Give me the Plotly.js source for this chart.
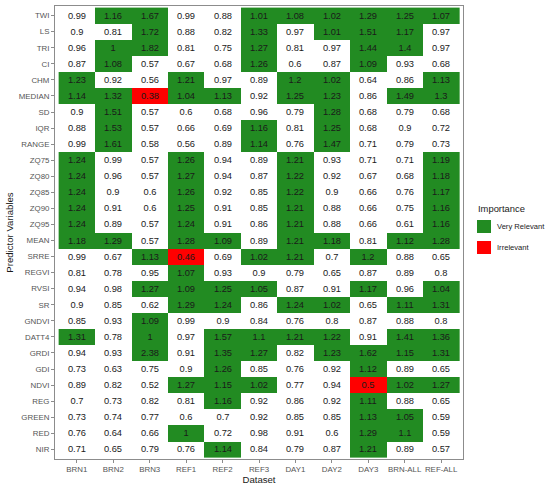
<!DOCTYPE html>
<html>
<head>
<meta charset="utf-8">
<script src="https://cdn.plot.ly/plotly-3.0.1.min.js"></script>
<style>
  html, body { margin: 0; padding: 0; background: #fff; }
  #chart { width: 550px; height: 489px; }
</style>
</head>
<body>
<div id="chart"></div>
<script>
// datasets (columns) and predictor variables (rows, top to bottom)
var datasets = ['BRN1', 'BRN2', 'BRN3', 'REF1', 'REF2', 'REF3', 'DAY1', 'DAY2', 'DAY3', 'BRN-ALL', 'REF-ALL'];
var predictors = ['TWI', 'LS', 'TRI', 'CI', 'CHM', 'MEDIAN', 'SD', 'IQR', 'RANGE',
    'ZQ75', 'ZQ80', 'ZQ85', 'ZQ90', 'ZQ95', 'MEAN', 'SRRE', 'REGVI', 'RVSI', 'SR',
    'GNDVI', 'DATT4', 'GRDI', 'GDI', 'NDVI', 'REG', 'GREEN', 'RED', 'NIR'];

// importance values, one row per predictor
var TWI    = [0.99, 1.16, 1.67, 0.99, 0.88, 1.01, 1.08, 1.02, 1.29, 1.25, 1.07];
var LS     = [0.9, 0.81, 1.72, 0.88, 0.82, 1.33, 0.97, 1.01, 1.51, 1.17, 0.97];
var TRI    = [0.96, 1, 1.82, 0.81, 0.75, 1.27, 0.81, 0.97, 1.44, 1.4, 0.97];
var CI     = [0.87, 1.08, 0.57, 0.67, 0.68, 1.26, 0.6, 0.87, 1.09, 0.93, 0.68];
var CHM    = [1.23, 0.92, 0.56, 1.21, 0.97, 0.89, 1.2, 1.02, 0.64, 0.86, 1.13];
var MEDIAN = [1.14, 1.32, 0.38, 1.04, 1.13, 0.92, 1.25, 1.23, 0.86, 1.49, 1.3];
var SD     = [0.9, 1.51, 0.57, 0.6, 0.68, 0.96, 0.79, 1.28, 0.68, 0.79, 0.68];
var IQR    = [0.88, 1.53, 0.57, 0.66, 0.69, 1.16, 0.81, 1.25, 0.68, 0.9, 0.72];
var RANGE  = [0.99, 1.61, 0.58, 0.56, 0.89, 1.14, 0.76, 1.47, 0.71, 0.79, 0.73];
var ZQ75   = [1.24, 0.99, 0.57, 1.26, 0.94, 0.89, 1.21, 0.93, 0.71, 0.71, 1.19];
var ZQ80   = [1.24, 0.96, 0.57, 1.27, 0.94, 0.87, 1.22, 0.92, 0.67, 0.68, 1.18];
var ZQ85   = [1.24, 0.9, 0.6, 1.26, 0.92, 0.85, 1.22, 0.9, 0.66, 0.76, 1.17];
var ZQ90   = [1.24, 0.91, 0.6, 1.25, 0.91, 0.85, 1.21, 0.88, 0.66, 0.75, 1.16];
var ZQ95   = [1.24, 0.89, 0.57, 1.24, 0.91, 0.86, 1.21, 0.88, 0.66, 0.61, 1.16];
var MEAN   = [1.18, 1.29, 0.57, 1.28, 1.09, 0.89, 1.21, 1.18, 0.81, 1.12, 1.28];
var SRRE   = [0.99, 0.67, 1.13, 0.46, 0.69, 1.02, 1.21, 0.7, 1.2, 0.88, 0.65];
var REGVI  = [0.81, 0.78, 0.95, 1.07, 0.93, 0.9, 0.79, 0.65, 0.87, 0.89, 0.8];
var RVSI   = [0.94, 0.98, 1.27, 1.09, 1.25, 1.05, 0.87, 0.91, 1.17, 0.96, 1.04];
var SR     = [0.9, 0.85, 0.62, 1.29, 1.24, 0.86, 1.24, 1.02, 0.65, 1.11, 1.31];
var GNDVI  = [0.85, 0.93, 1.09, 0.99, 0.9, 0.84, 0.76, 0.8, 0.87, 0.88, 0.8];
var DATT4  = [1.31, 0.78, 1, 0.97, 1.57, 1.1, 1.21, 1.22, 0.91, 1.41, 1.36];
var GRDI   = [0.94, 0.93, 2.38, 0.91, 1.35, 1.27, 0.82, 1.23, 1.62, 1.15, 1.31];
var GDI    = [0.73, 0.63, 0.75, 0.9, 1.26, 0.85, 0.76, 0.92, 1.12, 0.89, 0.65];
var NDVI   = [0.89, 0.82, 0.52, 1.27, 1.15, 1.02, 0.77, 0.94, 0.5, 1.02, 1.27];
var REG    = [0.7, 0.73, 0.82, 0.81, 1.16, 0.92, 0.86, 0.92, 1.11, 0.88, 0.65];
var GREEN  = [0.73, 0.74, 0.77, 0.6, 0.7, 0.92, 0.85, 0.85, 1.13, 1.05, 0.59];
var RED    = [0.76, 0.64, 0.66, 1, 0.72, 0.98, 0.91, 0.6, 1.29, 1.1, 0.59];
var NIR    = [0.71, 0.65, 0.79, 0.76, 1.14, 0.84, 0.79, 0.87, 1.21, 0.89, 0.57];

var values = [TWI, LS, TRI, CI, CHM, MEDIAN, SD, IQR, RANGE, ZQ75, ZQ80, ZQ85, ZQ90,
    ZQ95, MEAN, SRRE, REGVI, RVSI, SR, GNDVI, DATT4, GRDI, GDI, NDVI, REG, GREEN, RED, NIR];

var legendNames = ['Very Relevant', 'Irrelevant'];

// 0 = none, 1 = very relevant, 2 = irrelevant
function importance(v) {
    if (v >= 1) return 1;
    if (v <= 0.5) return 2;
    return 0;
}
var classes = values.map(function (row) { return row.map(importance); });
var labels = values.map(function (row) { return row.map(String); });

var green = '#228B22';
var red = '#FF0000';
var fam = 'Liberation Sans, Arial, sans-serif';

var heat = {
    type: 'heatmap',
    x: datasets,
    y: predictors,
    z: classes,
    text: labels,
    texttemplate: '%{text}',
    textfont: { family: fam, size: 9.3, color: '#1a1a1a' },
    zmin: 0,
    zmax: 2,
    colorscale: [[0, '#ffffff'], [0.25, '#ffffff'], [0.25, green], [0.75, green], [0.75, red], [1, red]],
    showscale: false,
    hoverinfo: 'x+y+text',
    showlegend: false
};

// plot area in pixels, used to place the hand-drawn legend
var L = 55, R = 463, T = 6, B = 459;
function px(x) { return (x - L) / (R - L); }
function py(y) { return (B - y) / (B - T); }

var legColors = [green, red];
var legTop = [220, 241];
var shapes = [];
var annotations = [{
    xref: 'paper', yref: 'paper', x: px(476), y: py(209),
    xanchor: 'left', yanchor: 'middle', showarrow: false,
    text: 'Importance', font: { family: fam, size: 9.4, color: '#1a1a1a' }
}];
legendNames.forEach(function (name, i) {
    shapes.push({
        type: 'rect', xref: 'paper', yref: 'paper',
        x0: px(477), x1: px(491), y0: py(legTop[i]), y1: py(legTop[i] + 13),
        fillcolor: legColors[i], line: { width: 0 }
    });
    annotations.push({
        xref: 'paper', yref: 'paper', x: px(495), y: py(legTop[i] + 6.5),
        xanchor: 'left', yanchor: 'middle', showarrow: false,
        text: name, font: { family: fam, size: 7.6, color: '#1a1a1a' }
    });
});

var axisFont = { family: fam, size: 7.9, color: '#555555' };

var layout = {
    width: 550,
    height: 489,
    margin: { l: L, r: 550 - R, t: T, b: 489 - B, autoexpand: false },
    paper_bgcolor: '#ffffff',
    plot_bgcolor: '#ffffff',
    font: { family: fam, color: '#1a1a1a' },
    showlegend: false,
    xaxis: {
        type: 'category',
        categoryorder: 'array',
        categoryarray: datasets,
        range: [-0.6, datasets.length - 0.4],
        showgrid: false,
        zeroline: false,
        showline: true,
        mirror: true,
        linecolor: '#8c8c8c',
        linewidth: 1,
        ticks: 'outside',
        ticklen: 3,
        tickcolor: '#8c8c8c',
        tickangle: 0,
        tickfont: axisFont,
        automargin: false,
        title: { text: 'Dataset', font: { size: 9.6, color: '#1a1a1a' }, standoff: 0 }
    },
    yaxis: {
        type: 'category',
        categoryorder: 'array',
        categoryarray: predictors,
        range: [predictors.length - 0.4, -0.6],
        showgrid: false,
        zeroline: false,
        showline: true,
        mirror: true,
        linecolor: '#8c8c8c',
        linewidth: 1,
        ticks: 'outside',
        ticklen: 3,
        tickcolor: '#8c8c8c',
        tickfont: axisFont,
        automargin: false,
        title: { text: 'Predictor Variables', font: { size: 9.6, color: '#1a1a1a' }, standoff: 3 }
    },
    shapes: shapes,
    annotations: annotations
};

Plotly.newPlot('chart', [heat], layout, { displayModeBar: false, staticPlot: true });
</script>
</body>
</html>
